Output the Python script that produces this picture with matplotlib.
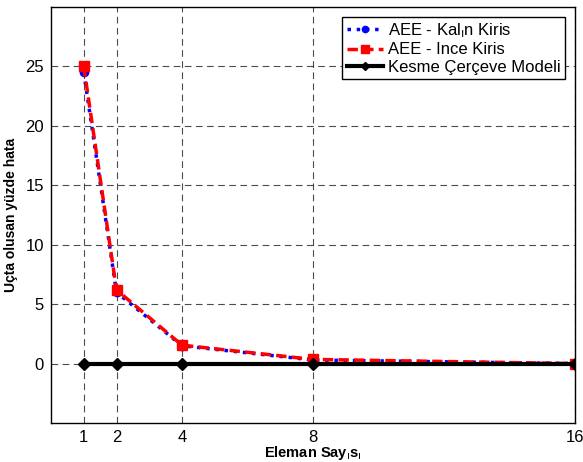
import matplotlib
matplotlib.use("Agg")
import matplotlib.pyplot as plt

plt.rcParams['font.family'] = ['Liberation Sans', 'DejaVu Sans']
plt.rcParams['mathtext.fontset'] = 'custom'
plt.rcParams['mathtext.rm'] = 'Liberation Sans'
plt.rcParams['mathtext.it'] = 'Liberation Sans'
plt.rcParams['mathtext.bf'] = 'Liberation Sans:bold'

eleman = [1, 2, 4, 8, 16]
kalin = [24.5, 6.0, 1.5, 0.3, 0.0]
ince = [25.0, 6.2, 1.55, 0.35, 0.0]
kesme = [0, 0, 0, 0, 0]
yticks = [0, 5, 10, 15, 20, 25]

fig = plt.figure(figsize=(5.83, 4.62), dpi=100)
ax = fig.add_axes([51/583, 39/462, 524/583, 416/462])

ax.plot(eleman, kalin, color='#0000ff', linestyle=':', linewidth=2.5,
        marker='o', markersize=6, markerfacecolor='#0000ff', markeredgecolor='#0000ff',
        label='AEE - Kal$_{ı}$n Kiris', zorder=3)
ax.plot(eleman, ince, color='#ff0000', linestyle='--', linewidth=2.5, dashes=(3, 1.5),
        marker='s', markersize=7, markerfacecolor='#ff0000', markeredgecolor='#ff0000',
        label='AEE - Ince Kiris', zorder=4)
ax.plot(eleman, kesme, color='black', linestyle='-', linewidth=3,
        marker='D', markersize=6, markerfacecolor='black', markeredgecolor='black',
        label='Kesme Çerçeve Modeli', zorder=5)

ax.set_xlim(0, 16)
ax.set_ylim(-5, 30)
ax.set_xticks(eleman)
ax.set_yticks(yticks)
ax.tick_params(labelsize=12, direction='in', length=0, pad=5)
ax.grid(True, color='black', linestyle=(0, (6, 4)), linewidth=0.8, alpha=0.7)
for s in ax.spines.values():
    s.set_linewidth(1)

ax.set_xlabel('Eleman Say$_{ı}$s$_{ı}$', fontsize=10.5, fontweight='bold', labelpad=-1)
ax.set_ylabel('Uçta olusan yüzde hata', fontsize=10, fontweight='bold', labelpad=5)

leg = ax.legend(loc='upper right', fontsize=12, fancybox=False, framealpha=1,
                edgecolor='black', handlelength=2.2, borderpad=0.25, labelspacing=0.15,
                handletextpad=0.3, borderaxespad=0.6, markerscale=0.75)
leg.get_frame().set_linewidth(1)

fig.savefig('out.png', dpi=100)
